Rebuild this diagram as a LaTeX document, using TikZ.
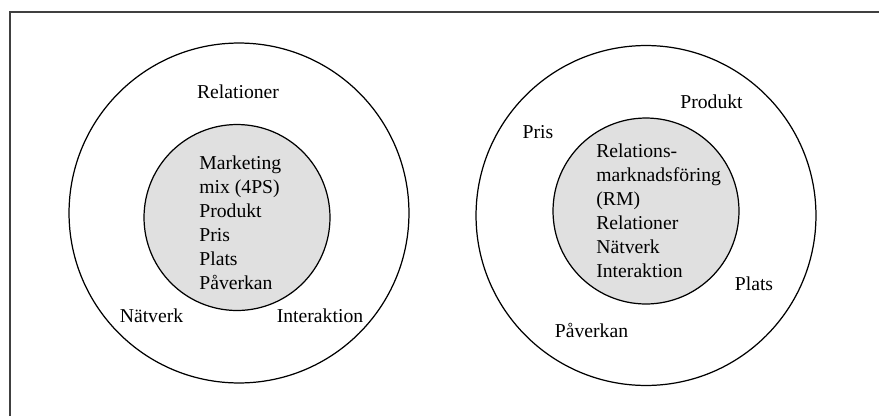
\documentclass[tikz,border=0pt]{standalone}
\usepackage{fontspec}
\setmainfont{Liberation Serif}
\usepackage{tikz}
\usetikzlibrary{positioning}

\begin{document}
\begin{tikzpicture}[x=0.02cm,y=-0.02cm,font=\fontsize{11.2}{13.6}\selectfont,
  ring/.style={draw,circle,line width=0.7pt,inner sep=0pt,minimum size=6.8cm},
  core/.style={draw,circle,line width=0.7pt,inner sep=0pt,minimum size=3.72cm,fill=black!12},
  lbl/.style={inner sep=0pt},
  list/.style={inner sep=0pt,align=left,anchor=west}]
  \useasboundingbox (0,0) rectangle (879,416);
  % frame: only top and left edges show
  \draw[line width=1pt,black!75] (10,416) -- (10,12) -- (879,12);
  % left: 4P mix inside, relation terms outside
  \node[ring](outL) at (239,213) {};
  \node[core](inL) at (237,217.5) {};
  \node[list](mixL) at (199,223) {Marketing\\mix (4PS)\\Produkt\\Pris\\Plats\\Påverkan};
  \node[lbl](relL) at (238,92) {Relationer};
  \node[lbl](natL) at (151.5,316) {Nätverk};
  \node[lbl](intL) at (320,316) {Interaktion};
  % right: RM inside, 4P outside
  \node[ring](outR) at (646,215.5) {};
  \node[core](inR) at (646,211) {};
  \node[list](rmR) at (596,211) {Relations-\\marknadsföring\\(RM)\\Relationer\\Nätverk\\Interaktion};
  \node[lbl](prodR) at (711.5,102) {Produkt};
  \node[lbl](prisR) at (538,132) {Pris};
  \node[lbl](platsR) at (754,284) {Plats};
  \node[lbl](pavR) at (591.5,330) {Påverkan};
\end{tikzpicture}
\end{document}
